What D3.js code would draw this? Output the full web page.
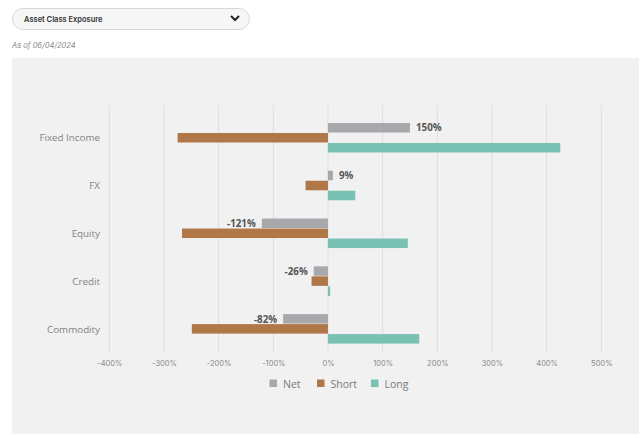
<!DOCTYPE html>
<html><head><meta charset="utf-8">
<script src="https://cdn.jsdelivr.net/npm/d3@7"></script>
<style>
body{margin:0;background:#fff;font-family:"Open Sans",sans-serif;}
svg{display:block;}
</style></head>
<body>
<svg id="c" width="640" height="438"></svg>
<script>
const categories = ["Fixed Income","FX","Equity","Credit","Commodity"];
const netValues = [150, 9, -121, -26, -82];
const shortValues = [-275, -41, -267, -30, -249];
const longValues = [425, 50, 146, 4, 167];
const seriesNames = ["Net","Short","Long"];
const seriesColors = ["#a7a8ab","#b07748","#79c1b3"];
const tickValues = [-400,-300,-200,-100,0,100,200,300,400,500];
const title = "Asset Class Exposure";
const asOf = "As of 06/04/2024";

const svg = d3.select("#c");

// dropdown
svg.append("rect").attr("x",12.5).attr("y",8.5).attr("width",237).attr("height",21).attr("rx",10.5)
  .attr("fill","#f6f6f6").attr("stroke","#d9d9d9");
svg.append("text").attr("x",24).attr("y",22).attr("font-size",7.5).attr("font-weight",600)
  .attr("font-family","Inter, sans-serif").attr("fill","#333").text(title);
svg.append("path").attr("d","M231,16 L235,20 L239,16").attr("fill","none").attr("stroke","#222").attr("stroke-width",2);
svg.append("text").attr("x",12).attr("y",48).attr("font-size",7.5).attr("font-style","italic")
  .attr("font-family","Inter, sans-serif").attr("fill","#888").text(asOf);

// panel
svg.append("rect").attr("x",12).attr("y",58).attr("width",627).attr("height",376).attr("fill","#f1f1f1");

const x = d3.scaleLinear().domain([-400,500]).range([109.3,601.3]);
const y = d3.scaleBand().domain(categories).range([114.1,353]);
const barH = 10;

// grid
svg.append("g").selectAll("line").data(tickValues).join("line")
  .attr("x1",d=>x(d)).attr("x2",d=>x(d)).attr("y1",105).attr("y2",352)
  .attr("stroke","#dedede").attr("stroke-width",1);

// axis labels
const ax = svg.append("g").attr("transform","translate(0,352)")
  .call(d3.axisBottom(x).tickValues(tickValues).tickSize(0).tickFormat(d=>d+"%"));
ax.select(".domain").remove();
ax.selectAll("text").attr("dy",0).attr("y",14).attr("font-size",7.5).attr("fill","#8a8a8a")
  .attr("font-family","Inter, sans-serif");

// category labels
svg.append("g").selectAll("text").data(categories).join("text")
  .attr("x",100).attr("y",d=>y(d)+y.bandwidth()/2+3.5)
  .attr("text-anchor","end").attr("font-size",9.8).attr("fill","#838383").text(d=>d);

const series = [netValues, shortValues, longValues];
series.forEach((vals,si)=>{
  svg.append("g").selectAll("rect").data(vals).join("rect")
    .attr("x",d=>x(Math.min(0,d))).attr("width",d=>Math.abs(x(d)-x(0)))
    .attr("y",(d,i)=>y(categories[i])+y.bandwidth()/2-15+si*barH)
    .attr("height",barH-0.5)
    .attr("fill",seriesColors[si]);
});

// net labels
svg.append("g").selectAll("text").data(netValues).join("text")
  .attr("x",d=>d>=0?x(d)+6:x(d)-6)
  .attr("text-anchor",d=>d>=0?"start":"end")
  .attr("y",(d,i)=>y(categories[i])+y.bandwidth()/2-15+barH/2+3.5)
  .attr("font-size",9.8).attr("font-weight",700).attr("fill","#555").text(d=>d+"%");

// legend
const lx = [269.5,317,371];
seriesNames.forEach((n,i)=>{
  svg.append("rect").attr("x",lx[i]).attr("y",379.5).attr("width",7.5).attr("height",7.5).attr("fill",seriesColors[i]);
  svg.append("text").attr("x",lx[i]+13.5).attr("y",387.5).attr("font-size",10.5).attr("fill","#7a7a7a").text(n);
});
</script>
</body></html>
